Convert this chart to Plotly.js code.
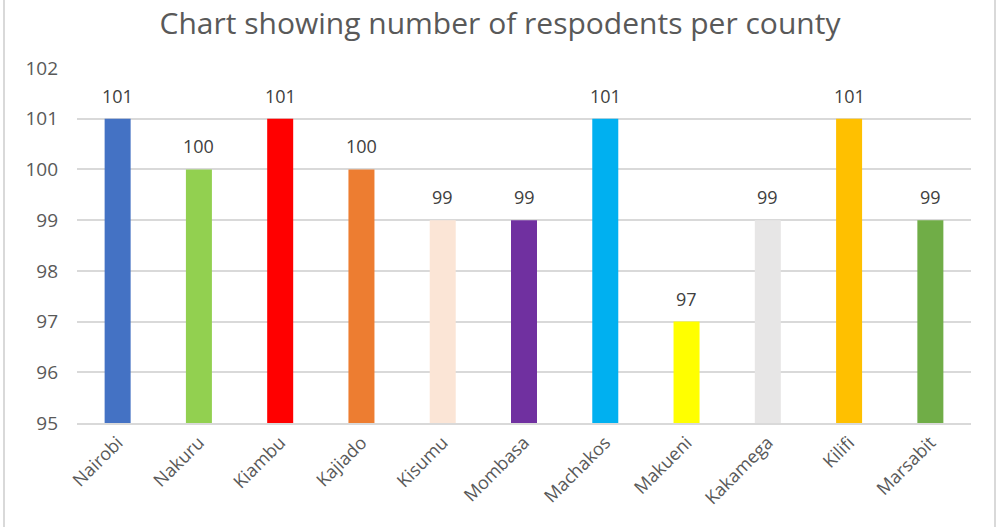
<!DOCTYPE html>
<html>
<head>
<meta charset="utf-8">
<script src="https://cdn.plot.ly/plotly-3.0.1.min.js"></script>
<style>
html,body{margin:0;padding:0;background:#fff;}
#wrap{position:relative;width:1000px;height:527px;}
#chart{width:1000px;height:527px;}
#frame{position:absolute;left:3px;top:0;width:993px;height:527px;border-left:2px solid #D9D9D9;border-right:2px solid #D9D9D9;pointer-events:none;box-sizing:border-box;}
</style>
</head>
<body>
<div id="wrap"><div id="chart"></div><div id="frame"></div></div>
<script>
const counties = ["Nairobi","Nakuru","Kiambu","Kajiado","Kisumu","Mombasa","Machakos","Makueni","Kakamega","Kilifi","Marsabit"];
const respondents = [101,100,101,100,99,99,101,97,99,101,99];
const barColors = ["#4472C4","#92D050","#FF0000","#ED7D31","#FBE5D6","#7030A0","#00B0F0","#FFFF00","#E7E6E6","#FFC000","#70AD47"];
const yTicks = [95,96,97,98,99,100,101,102];
const baseValue = 95;

const font = "Open Sans, Liberation Sans, sans-serif";
Plotly.newPlot("chart", [{
  type: "bar",
  x: counties,
  y: respondents.map(v => v - baseValue),
  base: baseValue,
  marker: {color: barColors},
  width: 0.32,
  hoverinfo: "x+y"
}], {
  width: 1000, height: 527,
  margin: {l: 77, r: 29, t: 68, b: 104},
  paper_bgcolor: "#fff", plot_bgcolor: "#fff",
  title: {text: "Chart showing number of respodents per county", x: 0.5, xanchor: "center", y: 0.955, yanchor: "middle",
          font: {family: font, size: 30, color: "#595959"}},
  xaxis: {tickangle: -45, tickfont: {family: font, size: 18, color: "#595959"}, showgrid: false,
          showline: true, linecolor: "#D9D9D9", linewidth: 2, ticks: "", automargin: false},
  yaxis: {range: [95, 102], tickvals: yTicks, ticktext: yTicks.map(String), showgrid: true, gridcolor: "#D9D9D9", gridwidth: 2,
          zeroline: false, showline: false, ticks: "", ticklabelstandoff: 18,
          tickfont: {family: font, size: 19, color: "#595959"}, automargin: false},
  annotations: counties.map((c, i) => ({
    x: c, y: respondents[i], xref: "x", yref: "y", text: String(respondents[i]),
    showarrow: false, yanchor: "middle", yshift: 23,
    font: {family: font, size: 18, color: "#404040"}
  })),
  showlegend: false
}, {displayModeBar: false, staticPlot: true});
</script>
</body>
</html>
